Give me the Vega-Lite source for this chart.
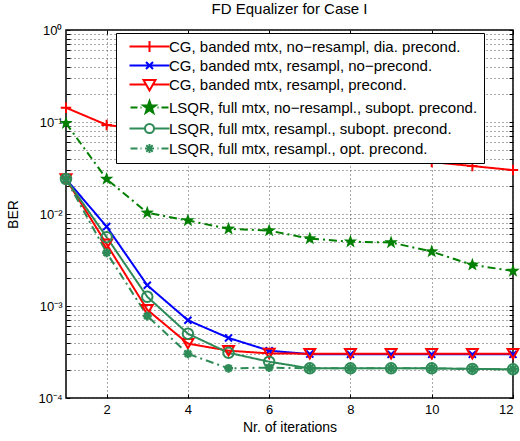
{
  "$schema": "https://vega.github.io/schema/vega-lite/v6.json",
  "width": 447,
  "height": 368,
  "autosize": "none",
  "padding": {"left": 66, "top": 30, "right": 7, "bottom": 43},
  "title": {"text": "FD Equalizer for Case I", "fontSize": 15, "fontWeight": "normal", "offset": 7, "color": "#000"},
  "config": {
    "font": "Liberation Sans",
    "view": {"stroke": "#000", "strokeWidth": 1.5},
    "axis": {"gridColor": "#555", "gridDash": [1, 3], "gridWidth": 1, "labelFontSize": 13, "titleFontSize": 14, "labelColor": "#000", "titleColor": "#000", "titleFontWeight": "normal", "domain": false, "tickColor": "#000", "tickWidth": 1}
  },
  "datasets": {
    "ber": [
      {"series": "CG, banded mtx, no−resampl, dia. precond.", "it": 1, "ber": 0.143},
      {"series": "CG, banded mtx, no−resampl, dia. precond.", "it": 2, "ber": 0.093},
      {"series": "CG, banded mtx, no−resampl, dia. precond.", "it": 3, "ber": 0.081},
      {"series": "CG, banded mtx, no−resampl, dia. precond.", "it": 4, "ber": 0.071},
      {"series": "CG, banded mtx, no−resampl, dia. precond.", "it": 5, "ber": 0.063},
      {"series": "CG, banded mtx, no−resampl, dia. precond.", "it": 6, "ber": 0.056},
      {"series": "CG, banded mtx, no−resampl, dia. precond.", "it": 7, "ber": 0.05},
      {"series": "CG, banded mtx, no−resampl, dia. precond.", "it": 8, "ber": 0.0455},
      {"series": "CG, banded mtx, no−resampl, dia. precond.", "it": 9, "ber": 0.0417},
      {"series": "CG, banded mtx, no−resampl, dia. precond.", "it": 10, "ber": 0.0367},
      {"series": "CG, banded mtx, no−resampl, dia. precond.", "it": 11, "ber": 0.0332},
      {"series": "CG, banded mtx, no−resampl, dia. precond.", "it": 12, "ber": 0.030},
      {"series": "CG, banded mtx, resampl, no−precond.", "it": 1, "ber": 0.024},
      {"series": "CG, banded mtx, resampl, no−precond.", "it": 2, "ber": 0.0073},
      {"series": "CG, banded mtx, resampl, no−precond.", "it": 3, "ber": 0.00168},
      {"series": "CG, banded mtx, resampl, no−precond.", "it": 4, "ber": 0.0007},
      {"series": "CG, banded mtx, resampl, no−precond.", "it": 5, "ber": 0.00045},
      {"series": "CG, banded mtx, resampl, no−precond.", "it": 6, "ber": 0.000327},
      {"series": "CG, banded mtx, resampl, no−precond.", "it": 7, "ber": 0.0003},
      {"series": "CG, banded mtx, resampl, no−precond.", "it": 8, "ber": 0.000298},
      {"series": "CG, banded mtx, resampl, no−precond.", "it": 9, "ber": 0.000298},
      {"series": "CG, banded mtx, resampl, no−precond.", "it": 10, "ber": 0.000298},
      {"series": "CG, banded mtx, resampl, no−precond.", "it": 11, "ber": 0.000298},
      {"series": "CG, banded mtx, resampl, no−precond.", "it": 12, "ber": 0.000298},
      {"series": "CG, banded mtx, resampl, precond.", "it": 1, "ber": 0.024},
      {"series": "CG, banded mtx, resampl, precond.", "it": 2, "ber": 0.0047},
      {"series": "CG, banded mtx, resampl, precond.", "it": 3, "ber": 0.00091},
      {"series": "CG, banded mtx, resampl, precond.", "it": 4, "ber": 0.00039},
      {"series": "CG, banded mtx, resampl, precond.", "it": 5, "ber": 0.000327},
      {"series": "CG, banded mtx, resampl, precond.", "it": 6, "ber": 0.000305},
      {"series": "CG, banded mtx, resampl, precond.", "it": 7, "ber": 0.000303},
      {"series": "CG, banded mtx, resampl, precond.", "it": 8, "ber": 0.000303},
      {"series": "CG, banded mtx, resampl, precond.", "it": 9, "ber": 0.000303},
      {"series": "CG, banded mtx, resampl, precond.", "it": 10, "ber": 0.000303},
      {"series": "CG, banded mtx, resampl, precond.", "it": 11, "ber": 0.000303},
      {"series": "CG, banded mtx, resampl, precond.", "it": 12, "ber": 0.000303},
      {"series": "LSQR, full mtx, no−resampl., subopt. precond.", "it": 1, "ber": 0.097},
      {"series": "LSQR, full mtx, no−resampl., subopt. precond.", "it": 2, "ber": 0.024},
      {"series": "LSQR, full mtx, no−resampl., subopt. precond.", "it": 3, "ber": 0.0103},
      {"series": "LSQR, full mtx, no−resampl., subopt. precond.", "it": 4, "ber": 0.0085},
      {"series": "LSQR, full mtx, no−resampl., subopt. precond.", "it": 5, "ber": 0.0069},
      {"series": "LSQR, full mtx, no−resampl., subopt. precond.", "it": 6, "ber": 0.0066},
      {"series": "LSQR, full mtx, no−resampl., subopt. precond.", "it": 7, "ber": 0.0054},
      {"series": "LSQR, full mtx, no−resampl., subopt. precond.", "it": 8, "ber": 0.005},
      {"series": "LSQR, full mtx, no−resampl., subopt. precond.", "it": 9, "ber": 0.0049},
      {"series": "LSQR, full mtx, no−resampl., subopt. precond.", "it": 10, "ber": 0.0039},
      {"series": "LSQR, full mtx, no−resampl., subopt. precond.", "it": 11, "ber": 0.0028},
      {"series": "LSQR, full mtx, no−resampl., subopt. precond.", "it": 12, "ber": 0.0024},
      {"series": "LSQR, full mtx, resampl., subopt. precond.", "it": 1, "ber": 0.024},
      {"series": "LSQR, full mtx, resampl., subopt. precond.", "it": 2, "ber": 0.0056},
      {"series": "LSQR, full mtx, resampl., subopt. precond.", "it": 3, "ber": 0.00126},
      {"series": "LSQR, full mtx, resampl., subopt. precond.", "it": 4, "ber": 0.0005},
      {"series": "LSQR, full mtx, resampl., subopt. precond.", "it": 5, "ber": 0.00031},
      {"series": "LSQR, full mtx, resampl., subopt. precond.", "it": 6, "ber": 0.000248},
      {"series": "LSQR, full mtx, resampl., subopt. precond.", "it": 7, "ber": 0.00021},
      {"series": "LSQR, full mtx, resampl., subopt. precond.", "it": 8, "ber": 0.00021},
      {"series": "LSQR, full mtx, resampl., subopt. precond.", "it": 9, "ber": 0.00021},
      {"series": "LSQR, full mtx, resampl., subopt. precond.", "it": 10, "ber": 0.00021},
      {"series": "LSQR, full mtx, resampl., subopt. precond.", "it": 11, "ber": 0.000207},
      {"series": "LSQR, full mtx, resampl., subopt. precond.", "it": 12, "ber": 0.000205},
      {"series": "LSQR, full mtx, resampl., opt. precond.", "it": 1, "ber": 0.024},
      {"series": "LSQR, full mtx, resampl., opt. precond.", "it": 2, "ber": 0.0038},
      {"series": "LSQR, full mtx, resampl., opt. precond.", "it": 3, "ber": 0.00078},
      {"series": "LSQR, full mtx, resampl., opt. precond.", "it": 4, "ber": 0.000302},
      {"series": "LSQR, full mtx, resampl., opt. precond.", "it": 5, "ber": 0.00021},
      {"series": "LSQR, full mtx, resampl., opt. precond.", "it": 6, "ber": 0.000214},
      {"series": "LSQR, full mtx, resampl., opt. precond.", "it": 7, "ber": 0.00021},
      {"series": "LSQR, full mtx, resampl., opt. precond.", "it": 8, "ber": 0.00021},
      {"series": "LSQR, full mtx, resampl., opt. precond.", "it": 9, "ber": 0.00021},
      {"series": "LSQR, full mtx, resampl., opt. precond.", "it": 10, "ber": 0.00021},
      {"series": "LSQR, full mtx, resampl., opt. precond.", "it": 11, "ber": 0.000207},
      {"series": "LSQR, full mtx, resampl., opt. precond.", "it": 12, "ber": 0.000205}
    ]
  },
  "data": {"name": "ber"},
  "resolve": {"axis": {"x": "independent", "y": "independent"}, "scale": {"color": "independent", "shape": "independent", "strokeDash": "independent"}, "legend": {"color": "independent", "shape": "independent", "strokeDash": "independent"}},
  "layer": [
    {
      "mark": {"type": "line", "strokeWidth": 2},
      "encoding": {
        "x": {"field": "it", "type": "quantitative", "scale": {"domain": [1, 12], "nice": false, "zero": false},
              "axis": {"orient": "bottom", "values": [2, 4, 6, 8, 10, 12], "grid": true, "ticks": false, "labelPadding": 5, "title": "Nr. of iterations", "titlePadding": 4}},
        "y": {"field": "ber", "type": "quantitative", "scale": {"type": "log", "domain": [0.0001, 1], "nice": false},
              "axis": {"orient": "left", "values": [0.0001, 0.001, 0.01, 0.1, 1], "grid": true, "ticks": false, "labelPadding": 4, "title": "BER", "titlePadding": 17,
                       "labelExpr": "datum.value > 0.5 ? '10⁰' : datum.value > 0.05 ? '10⁻¹' : datum.value > 0.005 ? '10⁻²' : datum.value > 0.0005 ? '10⁻³' : '10⁻⁴'"}},
        "color": {"field": "series", "type": "nominal", "legend": null,
                  "scale": {"domain": ["CG, banded mtx, no−resampl, dia. precond.", "CG, banded mtx, resampl, no−precond.", "CG, banded mtx, resampl, precond.", "LSQR, full mtx, no−resampl., subopt. precond.", "LSQR, full mtx, resampl., subopt. precond.", "LSQR, full mtx, resampl., opt. precond."],
                            "range": ["#ff0000", "#0000ff", "#ff0000", "#007f00", "#2e8b57", "#2e8b57"]}},
        "strokeDash": {"field": "series", "type": "nominal", "legend": null,
                  "scale": {"domain": ["CG, banded mtx, no−resampl, dia. precond.", "CG, banded mtx, resampl, no−precond.", "CG, banded mtx, resampl, precond.", "LSQR, full mtx, no−resampl., subopt. precond.", "LSQR, full mtx, resampl., subopt. precond.", "LSQR, full mtx, resampl., opt. precond."],
                            "range": [[1, 0], [1, 0], [1, 0], [8, 4, 2, 4], [1, 0], [8, 4, 2, 4]]}}
      }
    },
    {
      "transform": [{"filter": {"field": "series", "equal": "CG, banded mtx, no−resampl, dia. precond."}}],
      "mark": {"type": "point", "shape": "M-1,0H1M0,-1V1", "size": 110, "filled": false, "color": "#ff0000", "strokeWidth": 2, "opacity": 1},
      "encoding": {
        "x": {"field": "it", "type": "quantitative", "axis": {"orient": "top", "values": [2, 4, 6, 8, 10, 12], "grid": false, "labels": false, "ticks": true, "tickSize": -4, "title": null}},
        "y": {"field": "ber", "type": "quantitative", "axis": {"orient": "left", "values": [0.0002, 0.0003, 0.0004, 0.0005, 0.0006, 0.0007, 0.0008, 0.0009, 0.002, 0.003, 0.004, 0.005, 0.006, 0.007, 0.008, 0.009, 0.02, 0.03, 0.04, 0.05, 0.06, 0.07, 0.08, 0.09, 0.2, 0.3, 0.4, 0.5, 0.6, 0.7, 0.8, 0.9], "grid": true, "labels": false, "ticks": true, "tickSize": -4, "title": null}}
      }
    },
    {
      "transform": [{"filter": {"field": "series", "equal": "CG, banded mtx, resampl, no−precond."}}],
      "mark": {"type": "point", "shape": "M-1,-1L1,1M-1,1L1,-1", "size": 50, "filled": false, "color": "#0000ff", "strokeWidth": 2, "opacity": 1},
      "encoding": {
        "x": {"field": "it", "type": "quantitative", "axis": {"orient": "bottom", "values": [2, 4, 6, 8, 10, 12], "grid": false, "labels": false, "ticks": true, "tickSize": -4, "title": null}},
        "y": {"field": "ber", "type": "quantitative", "axis": {"orient": "right", "values": [0.0001, 0.0002, 0.0003, 0.0004, 0.0005, 0.0006, 0.0007, 0.0008, 0.0009, 0.001, 0.002, 0.003, 0.004, 0.005, 0.006, 0.007, 0.008, 0.009, 0.01, 0.02, 0.03, 0.04, 0.05, 0.06, 0.07, 0.08, 0.09, 0.1, 0.2, 0.3, 0.4, 0.5, 0.6, 0.7, 0.8, 0.9, 1], "grid": false, "labels": false, "ticks": true, "tickSize": -4, "title": null}}
      }
    },
    {
      "transform": [{"filter": {"field": "series", "equal": "CG, banded mtx, resampl, precond."}}],
      "mark": {"type": "point", "shape": "triangle-down", "size": 120, "filled": false, "color": "#ff0000", "strokeWidth": 2, "opacity": 1},
      "encoding": {
        "x": {"field": "it", "type": "quantitative", "axis": null},
        "y": {"field": "ber", "type": "quantitative", "axis": {"orient": "left", "values": [0.0001, 0.001, 0.01, 0.1, 1], "grid": false, "labels": false, "ticks": true, "tickSize": -4, "title": null}}
      }
    },
    {
      "transform": [{"filter": {"field": "series", "equal": "LSQR, full mtx, no−resampl., subopt. precond."}}],
      "mark": {"type": "point", "shape": "M0,-1L0.235,-0.324L0.951,-0.309L0.38,0.124L0.588,0.809L0,0.4L-0.588,0.809L-0.38,0.124L-0.951,-0.309L-0.235,-0.324Z", "size": 200, "filled": true, "color": "#007f00", "opacity": 1},
      "encoding": {
        "x": {"field": "it", "type": "quantitative", "axis": null},
        "y": {"field": "ber", "type": "quantitative", "axis": null}
      }
    },
    {
      "transform": [{"filter": {"field": "series", "equal": "LSQR, full mtx, resampl., subopt. precond."}}],
      "mark": {"type": "point", "shape": "circle", "size": 110, "filled": false, "color": "#2e8b57", "strokeWidth": 2, "opacity": 1},
      "encoding": {
        "x": {"field": "it", "type": "quantitative", "axis": null},
        "y": {"field": "ber", "type": "quantitative", "axis": null}
      }
    },
    {
      "transform": [{"filter": {"field": "series", "equal": "LSQR, full mtx, resampl., opt. precond."}}],
      "mark": {"type": "point", "shape": "M0,-1V1M-1,0H1M-0.7,-0.7L0.7,0.7M-0.7,0.7L0.7,-0.7", "size": 80, "filled": false, "color": "#2e8b57", "strokeWidth": 2.5, "opacity": 1},
      "encoding": {
        "x": {"field": "it", "type": "quantitative", "axis": null},
        "y": {"field": "ber", "type": "quantitative", "axis": null}
      }
    },
    {
      "mark": {"type": "point", "filled": false, "size": 4, "strokeWidth": 2, "opacity": 0},
      "encoding": {
        "x": {"field": "it", "type": "quantitative", "axis": null},
        "y": {"field": "ber", "type": "quantitative", "axis": null},
        "color": {"field": "series", "type": "nominal",
                  "scale": {"domain": ["CG, banded mtx, no−resampl, dia. precond.", "CG, banded mtx, resampl, no−precond.", "CG, banded mtx, resampl, precond.", "LSQR, full mtx, no−resampl., subopt. precond.", "LSQR, full mtx, resampl., subopt. precond.", "LSQR, full mtx, resampl., opt. precond."],
                            "range": ["#ff0000", "#0000ff", "#ff0000", "#007f00", "#2e8b57", "#2e8b57"]},
                  "legend": {"title": null, "orient": "none", "legendX": 50, "legendY": 3, "strokeColor": "#000", "fillColor": "#fff", "padding": 6, "labelFontSize": 15, "labelColor": "#000", "labelLimit": 0, "rowPadding": 2, "labelOffset": 32, "symbolStrokeWidth": 2, "symbolSize": 4, "cornerRadius": 0,
                             "encode": {"symbols": {"update": {"opacity": {"value": 1}}}}}},
        "shape": {"field": "series", "type": "nominal",
                  "scale": {"domain": ["CG, banded mtx, no−resampl, dia. precond.", "CG, banded mtx, resampl, no−precond.", "CG, banded mtx, resampl, precond.", "LSQR, full mtx, no−resampl., subopt. precond.", "LSQR, full mtx, resampl., subopt. precond.", "LSQR, full mtx, resampl., opt. precond."],
                            "range": ["M0,0H40M20,-5.5V5.5", "M0,0H40M16.5,-3.5L23.5,3.5M16.5,3.5L23.5,-3.5", "M0,0H16.6M23.4,0H40M14,-4.5H26L20,6Z", "M1,0H8M11,0H12M28,0H29M32,0H39M20,-6.5L21.53,-2.1L26.18,-2.01L22.47,0.8L23.82,5.26L20,2.6L16.18,5.26L17.53,0.8L13.82,-2.01L18.47,-2.1ZM20,-3.5L20.82,-1.13L23.33,-1.08L21.33,0.43L22.06,2.83L20,1.4L17.94,2.83L18.67,0.43L16.67,-1.08L19.18,-1.13ZM19,0H21", "M0,0H15.5M24.5,0H40M24.5,0A4.5,4.5,0,1,1,15.5,0A4.5,4.5,0,1,1,24.5,0Z", "M1,0H8M11,0H12M28,0H29M32,0H39M20,-4.5V4.5M15.5,0H24.5M16.8,-3.2L23.2,3.2M16.8,3.2L23.2,-3.2"]},
                  "legend": {"title": null, "orient": "none", "legendX": 50, "legendY": 3, "strokeColor": "#000", "fillColor": "#fff", "padding": 6, "labelFontSize": 15, "labelColor": "#000", "labelLimit": 0, "rowPadding": 2, "labelOffset": 32, "symbolStrokeWidth": 2, "symbolSize": 4, "cornerRadius": 0,
                             "encode": {"symbols": {"update": {"opacity": {"value": 1}}}}}}
      }
    }
  ]
}
